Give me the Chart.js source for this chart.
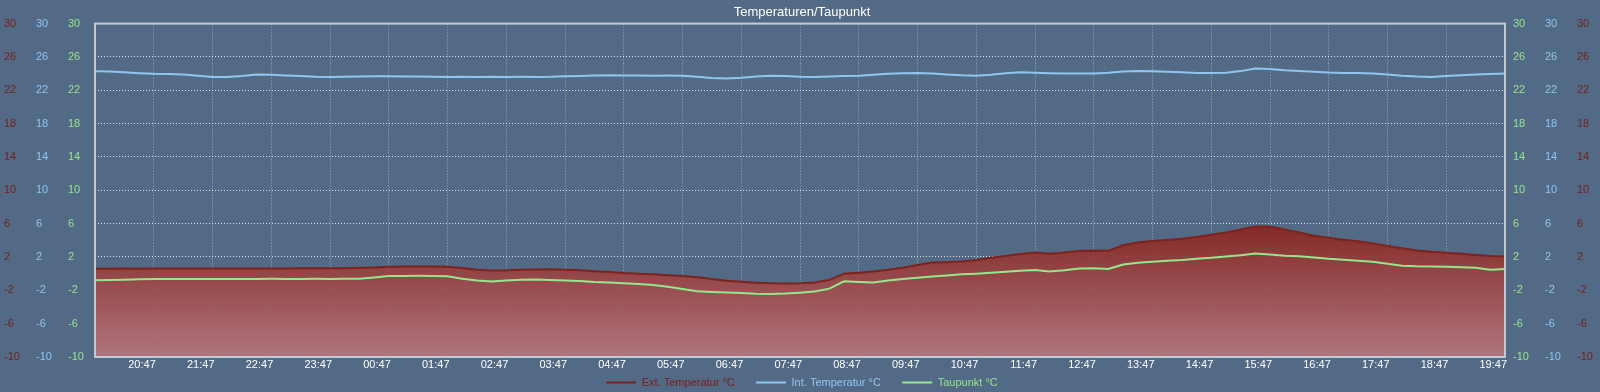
<!DOCTYPE html>
<html>
<head>
<meta charset="utf-8">
<script src="https://cdn.jsdelivr.net/npm/chart.js@4.4.1/dist/chart.umd.min.js"></script>
<style>
  html, body { margin: 0; padding: 0; background: #536a87; }
  canvas { display: block; }
</style>
</head>
<body>
<canvas id="chart" width="1600" height="392"></canvas>
<script>
// 24h window, one reading every 15 minutes
const startTime = '19:47';
const stepMinutes = 15;

const extTemp = [
    0.60, 0.60, 0.61, 0.60, 0.62, 0.62, 0.61, 0.63, 0.63, 0.62, 0.63, 0.62,
    0.62, 0.63, 0.64, 0.64, 0.65, 0.66, 0.70, 0.75, 0.82, 0.85, 0.86, 0.85,
    0.82, 0.68, 0.48, 0.38, 0.40, 0.48, 0.50, 0.52, 0.48, 0.40, 0.30, 0.20,
    0.08, 0.00, -0.08, -0.18, -0.27, -0.42, -0.65, -0.85, -0.98, -1.08, -1.15, -1.18,
    -1.15, -1.05, -0.75, 0.00, 0.12, 0.25, 0.48, 0.70, 1.05, 1.33, 1.38, 1.45,
    1.65, 1.92, 2.12, 2.35, 2.55, 2.40, 2.55, 2.72, 2.78, 2.75, 3.40, 3.75,
    3.93, 4.05, 4.20, 4.40, 4.68, 4.95, 5.30, 5.65, 5.65, 5.30, 4.95, 4.55,
    4.30, 4.08, 3.88, 3.62, 3.33, 3.05, 2.78, 2.62, 2.50, 2.40, 2.25, 2.12,
    2.05
];

const intTemp = [
    24.28, 24.25, 24.15, 24.05, 23.97, 23.95, 23.88, 23.75, 23.60, 23.58, 23.70, 23.88,
    23.85, 23.78, 23.70, 23.62, 23.60, 23.62, 23.65, 23.68, 23.67, 23.66, 23.64, 23.62,
    23.60, 23.62, 23.60, 23.62, 23.60, 23.61, 23.60, 23.62, 23.68, 23.72, 23.78, 23.80,
    23.78, 23.76, 23.75, 23.76, 23.75, 23.62, 23.48, 23.40, 23.50, 23.65, 23.75, 23.70,
    23.62, 23.60, 23.65, 23.70, 23.75, 23.85, 23.98, 24.05, 24.08, 24.02, 23.90, 23.80,
    23.75, 23.85, 24.05, 24.15, 24.10, 24.05, 24.02, 24.00, 24.00, 24.10, 24.25, 24.30,
    24.28, 24.22, 24.15, 24.08, 24.08, 24.10, 24.30, 24.62, 24.55, 24.40, 24.32, 24.22,
    24.12, 24.08, 24.08, 24.00, 23.90, 23.75, 23.65, 23.60, 23.70, 23.80, 23.90, 23.95,
    24.00
];

const dewPoint = [
    -0.78, -0.75, -0.72, -0.66, -0.65, -0.64, -0.65, -0.63, -0.63, -0.64, -0.63, -0.63,
    -0.62, -0.63, -0.63, -0.62, -0.63, -0.62, -0.62, -0.45, -0.28, -0.27, -0.26, -0.27,
    -0.30, -0.62, -0.82, -0.95, -0.82, -0.72, -0.70, -0.75, -0.82, -0.88, -1.00, -1.05,
    -1.15, -1.25, -1.35, -1.58, -1.85, -2.10, -2.20, -2.27, -2.32, -2.40, -2.43, -2.38,
    -2.28, -2.15, -1.80, -0.92, -1.00, -1.05, -0.82, -0.65, -0.50, -0.35, -0.22, -0.08,
    0.00, 0.10, 0.22, 0.35, 0.45, 0.25, 0.40, 0.62, 0.65, 0.57, 1.10, 1.30,
    1.42, 1.55, 1.65, 1.80, 1.90, 2.05, 2.20, 2.42, 2.30, 2.15, 2.08, 1.95,
    1.78, 1.68, 1.55, 1.42, 1.20, 0.95, 0.88, 0.85, 0.82, 0.78, 0.70, 0.48,
    0.57
];

const seriesLabels = ['Ext. Temperatur °C', 'Int. Temperatur °C', 'Taupunkt °C'];

const red = 'rgb(118, 32, 28)';
const redLine = 'rgb(125, 34, 28)';
const blue = 'rgb(142, 198, 240)';
const green = 'rgb(150, 230, 140)';

const times = extTemp.map((_, i) => {
    const [h, m] = startTime.split(':').map(Number);
    const total = (h * 60 + m + i * stepMinutes) % 1440;
    return String(Math.floor(total / 60)).padStart(2, '0') + ':' + String(total % 60).padStart(2, '0');
});

Chart.defaults.font.family = "'Liberation Sans', Arial, sans-serif";
Chart.defaults.font.size = 11;

function yAxis(position, color, weight, width, showGrid) {
    return {
        position: position,
        weight: weight,
        min: -10,
        max: 30,
        afterFit: (s) => { s.width = width; },
        grid: { display: showGrid, drawTicks: false, color: 'rgba(255,255,255,0.8)' },
        border: { display: false, dash: [1, 2] },
        ticks: {
            stepSize: 4,
            color: color,
            padding: 8,
            crossAlign: position === 'left' ? 'far' : 'near'
        }
    };
}

const plotFrame = {
    id: 'plotFrame',
    afterDatasetsDraw(chart) {
        const { ctx, chartArea: a } = chart;
        ctx.save();
        ctx.strokeStyle = 'rgb(196, 202, 212)';
        ctx.lineWidth = 2;
        ctx.strokeRect(a.left, a.top, a.right - a.left, a.bottom - a.top);
        ctx.restore();
    }
};

const legendColors = [red, blue, green];

new Chart(document.getElementById('chart'), {
    type: 'line',
    data: {
        labels: times,
        datasets: [{
            label: seriesLabels[0],
            data: extTemp,
            yAxisID: 'yRedL',
            borderColor: redLine,
            borderWidth: 2,
            fill: 'start',
            order: 3,
            backgroundColor: (ctx) => {
                const chart = ctx.chart;
                const area = chart.chartArea;
                if (!area) return 'rgba(135, 40, 32, 0.9)';
                const y = chart.scales.yRedL;
                const g = chart.ctx.createLinearGradient(0, y.getPixelForValue(6), 0, area.bottom);
                g.addColorStop(0, 'rgba(135, 35, 28, 0.92)');
                g.addColorStop(1, 'rgba(185, 118, 125, 0.9)');
                return g;
            }
        }, {
            label: seriesLabels[1],
            data: intTemp,
            yAxisID: 'yBlueL',
            borderColor: blue,
            borderWidth: 2,
            fill: false,
            order: 2
        }, {
            label: seriesLabels[2],
            data: dewPoint,
            yAxisID: 'yGreenL',
            borderColor: green,
            borderWidth: 2,
            fill: false,
            order: 1
        }]
    },
    options: {
        responsive: false,
        animation: false,
        devicePixelRatio: 1,
        elements: { point: { radius: 0 }, line: { tension: 0 } },
        layout: { padding: { left: 4, right: 0, top: 0, bottom: 0 } },
        plugins: {
            title: {
                display: true,
                text: 'Temperaturen/Taupunkt',
                color: '#ffffff',
                font: { size: 13, weight: 'normal' },
                padding: { top: 5, bottom: 3 }
            },
            legend: {
                position: 'bottom',
                maxHeight: 21,
                labels: {
                    boxWidth: 30,
                    boxHeight: 2,
                    padding: 6,
                    // trailing spaces widen the gap between legend items
                    generateLabels: (chart) => chart.data.datasets.map((ds, i, all) => ({
                        text: i < all.length - 1 ? ds.label + '     ' : ds.label,
                        fillStyle: legendColors[i],
                        strokeStyle: legendColors[i],
                        lineWidth: 0,
                        fontColor: legendColors[i],
                        hidden: false,
                        datasetIndex: i
                    }))
                }
            },
            tooltip: { enabled: false }
        },
        scales: {
            x: {
                type: 'category',
                afterFit: (s) => { s.height = 14; },
                grid: { drawTicks: false, color: 'rgba(255,255,255,0.45)' },
                border: { display: false, dash: [1, 2] },
                ticks: {
                    color: '#ffffff',
                    autoSkip: false,
                    maxRotation: 0,
                    align: 'end',
                    labelOffset: 2,
                    padding: 1,
                    callback: function (v, i) {
                        if (i === 0) return '';
                        return i % 4 === 0 ? this.getLabelForValue(v) : null;
                    }
                }
            },
            yRedL: yAxis('left', red, 2, 32, false),
            yBlueL: yAxis('left', blue, 1, 32, false),
            yGreenL: yAxis('left', green, 0, 27, true),
            yGreenR: yAxis('right', green, 0, 32, false),
            yBlueR: yAxis('right', blue, 1, 32, false),
            yRedR: yAxis('right', red, 2, 31, false)
        }
    },
    plugins: [plotFrame]
});
</script>
</body>
</html>
